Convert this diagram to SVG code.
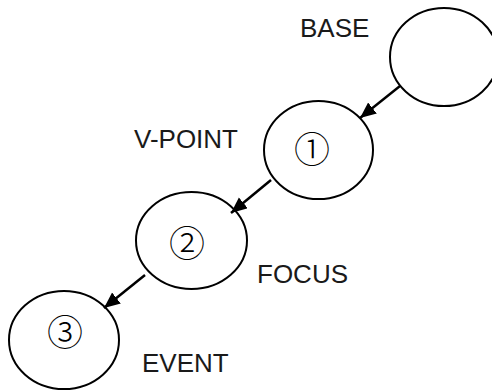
<svg xmlns="http://www.w3.org/2000/svg" width="492" height="392" viewBox="0 0 492 392">
  <style>
    .node { fill: #fff; stroke: #000; stroke-width: 2; }
    .label { font-family: "Liberation Sans", Arial, sans-serif; font-size: 26px; fill: #1a1a1a; }
    .num { font-family: "Noto Sans CJK JP", "DejaVu Sans", sans-serif; font-size: 36px; font-weight: 300; fill: #000; text-anchor: middle; }
    .edge { stroke: #000; stroke-width: 2.5; fill: none; marker-end: url(#arrow); }
  </style>
  <defs>
    <marker id="arrow" markerUnits="userSpaceOnUse" markerWidth="18" markerHeight="16" refX="16" refY="7" orient="auto">
      <path d="M0,0 L16,7 L0,14 Z" fill="#000"/>
    </marker>
  </defs>
  <rect width="492" height="392" fill="#fff"/>
  <g id="base">
    <ellipse class="node" cx="444" cy="57" rx="54" ry="49"/>
    <text class="label" x="300" y="37">BASE</text>
  </g>
  <g id="vpoint">
    <ellipse class="node" cx="318.5" cy="150" rx="54.5" ry="49"/>
    <text class="num" x="312" y="163">①</text>
    <text class="label" x="238" y="148" text-anchor="end">V-POINT</text>
  </g>
  <g id="focus">
    <ellipse class="node" cx="191.5" cy="240.5" rx="55.5" ry="48.5"/>
    <text class="num" x="187" y="256.5">②</text>
    <text class="label" x="257" y="283">FOCUS</text>
  </g>
  <g id="event">
    <ellipse class="node" cx="64" cy="340" rx="55" ry="49"/>
    <text class="num" x="65" y="345.5">③</text>
    <text class="label" x="142" y="372">EVENT</text>
  </g>
  <g id="connectors">
    <line class="edge" x1="400" y1="86" x2="360" y2="118"/>
    <line class="edge" x1="271" y1="180" x2="231" y2="213"/>
    <line class="edge" x1="145" y1="275" x2="104" y2="308"/>
  </g>
</svg>
